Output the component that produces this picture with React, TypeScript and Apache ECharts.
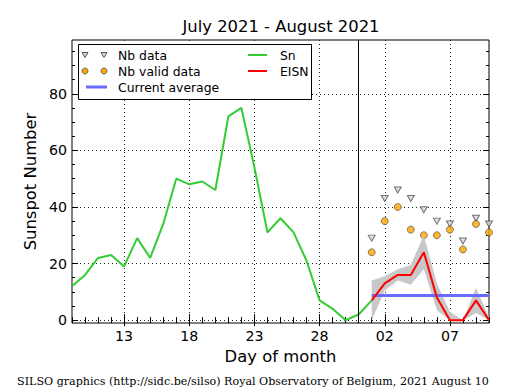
import React, { useEffect, useRef } from "react";
import * as echarts from "echarts";

// Day-of-month categories: July 9 .. July 31, then August 1 .. August 10
const JULY_DAYS = ["09","10","11","12","13","14","15","16","17","18","19","20","21","22","23","24","25","26","27","28","29","30","31"];
const AUGUST_DAYS = ["01","02","03","04","05","06","07","08","09","10"];
const X_LABEL_DAYS = ["13","18","23","28","02","07"];
const VERTICAL_MARK_DAY = "31";

// Sn (July 9 .. August 1)
const SN = [12,16,22,23,19,29,22,34,50,48,49,46,72,75,54,31,36,31,21,7,4,0,2,7];
// August 1 .. August 10
const EISN = [7,13,16,16,24,8,0,0,7,0];
const EISN_LOW = [0,10.5,14,12.5,18,3.5,0,0,2.5,0];
const EISN_HIGH = [14,15.5,18,19.5,30,13,3,0,11.5,1];
const NB_DATA = [29,43,46,43,39,35,34,28,36,34];
const NB_VALID = [24,35,40,32,30,30,32,25,34,31];
const CURRENT_AVERAGE = [8.7,8.7,8.7,8.7,8.7,8.7,8.7,8.7,8.7,8.7];

const Y_MAJOR = [0,20,40,60,80];
const Y_MINOR = [0,5,10,15,20,25,30,35,40,45,50,55,60,65,70,75,80,85,90,95];

const FONT = "DejaVu Sans";

export default function App() {
  const ref = useRef<HTMLDivElement>(null);

  useEffect(() => {
    document.body.style.margin = "0";
    const chart = echarts.init(ref.current!, null, { renderer: "svg" });

    const categories = [...JULY_DAYS, ...AUGUST_DAYS];
    const n = categories.length;
    const augStart = JULY_DAYS.length;
    const pad = (arr: number[], start: number) => {
      const out: (number | null)[] = new Array(n).fill(null);
      arr.forEach((v, i) => (out[start + i] = v));
      return out;
    };
    const bandRange = EISN_HIGH.map((h, i) => h - EISN_LOW[i]);
    const isLabelDay = (_i: number, v: string) => X_LABEL_DAYS.includes(v);

    const dotted = { type: [1, 3] as any, color: "#222", width: 1 };

    const xBase = {
      type: "category" as const,
      data: categories,
      boundaryGap: false,
      axisLine: { show: false },
      splitLine: { show: false },
      axisLabel: { show: false },
    };
    const yBase = {
      type: "value" as const,
      min: -1,
      max: 99,
      axisLine: { show: false },
      splitLine: { show: false },
      axisLabel: { show: false },
    };

    const LZ = 100;
    const legendText = (text: string, x: number, y: number) => ({
      type: "text",
      z: LZ + 2,
      style: { text, x, y, textVerticalAlign: "middle", font: `12.4px "${FONT}"`, fill: "#000" },
    });

    const option: any = {
      animation: false,
      grid: { left: 72, right: 26, top: 40, bottom: 67, show: true, borderColor: "#000", borderWidth: 1, outerBoundsMode: "none" },
      xAxis: [
        {
          ...xBase,
          position: "bottom",
          axisTick: { show: true, inside: true, length: 6, interval: isLabelDay, lineStyle: { color: "#000" } },
          axisLabel: { show: true, interval: isLabelDay, fontSize: 14.2, fontFamily: FONT, color: "#000", margin: 6 },
          splitLine: { show: true, interval: isLabelDay, lineStyle: dotted },
          name: "Day of month",
          nameLocation: "middle",
          nameGap: 25,
          nameTextStyle: { fontSize: 16.4, fontFamily: FONT, color: "#000" },
        },
        { ...xBase, position: "bottom", axisTick: { show: true, inside: true, length: 3, interval: 0, lineStyle: { color: "#000" } } },
        { ...xBase, position: "top", axisTick: { show: true, inside: true, length: 6, interval: isLabelDay, lineStyle: { color: "#000" } } },
        { ...xBase, position: "top", axisTick: { show: true, inside: true, length: 3, interval: 0, lineStyle: { color: "#000" } } },
      ],
      yAxis: [
        {
          ...yBase,
          position: "left",
          axisTick: { show: true, inside: true, length: 6, customValues: Y_MAJOR, lineStyle: { color: "#000" } },
          axisLabel: { show: true, customValues: Y_MAJOR, fontSize: 14.2, fontFamily: FONT, color: "#000", margin: 5 },
          splitLine: { show: true, lineStyle: dotted },
          name: "Sunspot Number",
          nameLocation: "middle",
          nameGap: 32,
          nameTextStyle: { fontSize: 16.4, fontFamily: FONT, color: "#000" },
        },
        { ...yBase, position: "left", axisTick: { show: true, inside: true, length: 3, customValues: Y_MINOR, lineStyle: { color: "#000" } } },
        { ...yBase, position: "right", axisTick: { show: true, inside: true, length: 6, customValues: Y_MAJOR, lineStyle: { color: "#000" } } },
        { ...yBase, position: "right", axisTick: { show: true, inside: true, length: 3, customValues: Y_MINOR, lineStyle: { color: "#000" } } },
      ],
      series: [
        {
          name: "bandLow",
          type: "line",
          stack: "band",
          data: pad(EISN_LOW, augStart),
          showSymbol: false,
          symbol: "none",
          lineStyle: { opacity: 0 },
          silent: true,
        },
        {
          name: "bandRange",
          type: "line",
          stack: "band",
          data: pad(bandRange, augStart),
          showSymbol: false,
          symbol: "none",
          lineStyle: { opacity: 0 },
          areaStyle: { color: "#c8c8c8", opacity: 1 },
          silent: true,
        },
        {
          name: "Current average",
          type: "line",
          data: pad(CURRENT_AVERAGE, augStart),
          showSymbol: false,
          symbol: "none",
          lineStyle: { color: "#6a6aff", width: 3 },
        },
        {
          name: "Sn",
          type: "line",
          data: pad(SN, 0),
          showSymbol: false,
          symbol: "none",
          lineStyle: { color: "#33cc33", width: 2 },
          markLine: {
            silent: true,
            symbol: "none",
            label: { show: false },
            lineStyle: { color: "#000", type: "solid", width: 1 },
            data: [{ xAxis: VERTICAL_MARK_DAY }],
          },
        },
        {
          name: "EISN",
          type: "line",
          data: pad(EISN, augStart),
          showSymbol: false,
          symbol: "none",
          lineStyle: { color: "#ff0000", width: 2 },
        },
        {
          name: "Nb data",
          type: "scatter",
          data: pad(NB_DATA, augStart),
          symbol: "triangle",
          symbolRotate: 180,
          symbolSize: [7, 6],
          itemStyle: { color: "#d8d8d8", borderColor: "#555", borderWidth: 1 },
        },
        {
          name: "Nb valid data",
          type: "scatter",
          data: pad(NB_VALID, augStart),
          symbol: "circle",
          symbolSize: 7,
          itemStyle: { color: "#ffa500", borderColor: "#333", borderWidth: 0.7 },
        },
      ],
      graphic: [
        {
          type: "text",
          style: { text: "July 2021 - August 2021", x: 281, y: 26, textAlign: "center", textVerticalAlign: "middle", font: `16.4px "${FONT}"`, fill: "#000" },
        },
        {
          type: "text",
          style: {
            text: "SILSO graphics (http://sidc.be/silso) Royal Observatory of Belgium, 2021 August 10",
            x: 253, y: 381, textAlign: "center", textVerticalAlign: "middle", font: `11.1px "DejaVu Serif"`, fill: "#000",
          },
        },
        { type: "rect", z: LZ, shape: { x: 78.5, y: 44.5, width: 233, height: 55 }, style: { fill: "#fff", stroke: "#000", lineWidth: 1 } },
        { type: "polygon", z: LZ + 1, shape: { points: [[82, 52.5], [88, 52.5], [85, 57.5]] }, style: { fill: "#d8d8d8", stroke: "#555", lineWidth: 1 } },
        { type: "polygon", z: LZ + 1, shape: { points: [[101, 52.5], [107, 52.5], [104, 57.5]] }, style: { fill: "#d8d8d8", stroke: "#555", lineWidth: 1 } },
        { type: "circle", z: LZ + 1, shape: { cx: 85, cy: 71, r: 3 }, style: { fill: "#ffa500", stroke: "#333", lineWidth: 0.7 } },
        { type: "circle", z: LZ + 1, shape: { cx: 104, cy: 71, r: 3 }, style: { fill: "#ffa500", stroke: "#333", lineWidth: 0.7 } },
        { type: "line", z: LZ + 1, shape: { x1: 86, y1: 87, x2: 107, y2: 87 }, style: { stroke: "#6a6aff", lineWidth: 3 } },
        { type: "line", z: LZ + 1, shape: { x1: 248, y1: 55, x2: 267, y2: 55 }, style: { stroke: "#33cc33", lineWidth: 2 } },
        { type: "line", z: LZ + 1, shape: { x1: 248, y1: 71, x2: 267, y2: 71 }, style: { stroke: "#ff0000", lineWidth: 2 } },
        legendText("Nb data", 118, 55),
        legendText("Nb valid data", 118, 71),
        legendText("Current average", 118, 87),
        legendText("Sn", 280, 55),
        legendText("EISN", 280, 71),
      ],
    };

    chart.setOption(option);
    return () => chart.dispose();
  }, []);

  return <div ref={ref} style={{ width: 515, height: 390 }} />;
}
